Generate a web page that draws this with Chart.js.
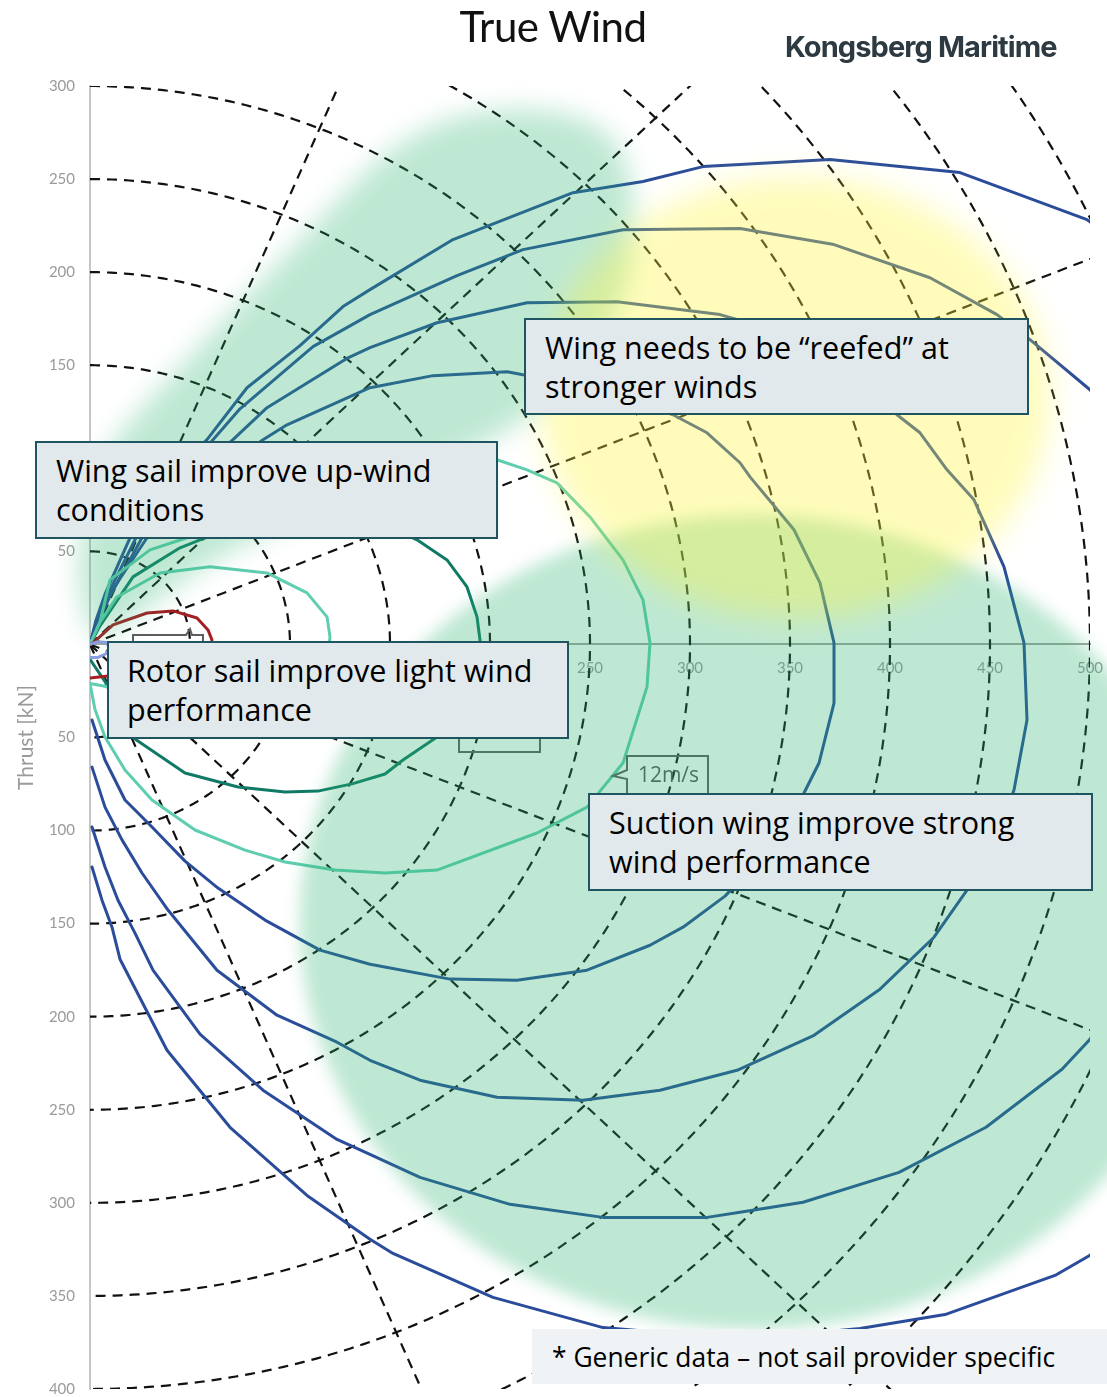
<!DOCTYPE html>
<html>
<head>
<meta charset="utf-8">
<title>True Wind – sail thrust polars</title>
<script src="https://cdn.jsdelivr.net/npm/chart.js@4.4.1/dist/chart.umd.min.js"></script>
<style>
  html, body { margin: 0; padding: 0; background: #fff; }
  #stage { position: relative; width: 1107px; height: 1397px; overflow: hidden; }
  #chart { position: absolute; left: 0; top: 0; }
  .heading { position: absolute; left: 353px; top: 5px; width: 400px; text-align: center;
             font: 42px/42px Lato, sans-serif; color: #111; letter-spacing: -0.5px; }
  .brand { position: absolute; left: 785px; top: 32px; font: 700 29px/29px Inter, sans-serif;
           color: #2d3a41; letter-spacing: -0.9px; white-space: nowrap; }
  .callout { position: absolute; box-sizing: border-box; border: 2px solid #1e5560; background: #e2e9ec;
             display: flex; align-items: center; padding-left: 19px; font: 30.5px/39px "Open Sans", sans-serif;
             color: #000; white-space: nowrap; }
  .footnote { position: absolute; box-sizing: border-box; background: #eff3f5; display: flex;
              align-items: center; padding-left: 20px; font: 26.4px/30px "Open Sans", sans-serif; color: #000;
              white-space: nowrap; }
</style>
</head>
<body>
<div id="stage">
  <canvas id="chart" width="1107" height="1397"></canvas>
  <div class="heading">True Wind</div>
  <div class="brand">Kongsberg Maritime</div>
  <div class="callout" style="left:524px;top:318px;width:505px;height:97px;">Wing needs to be “reefed” at<br>stronger winds</div>
  <div class="callout" style="left:35px;top:441px;width:463px;height:98px;">Wing sail improve up-wind<br>conditions</div>
  <div class="callout" style="left:107px;top:641px;width:462px;height:98px;padding-left:18px;">Rotor sail improve light wind<br>performance</div>
  <div class="callout" style="left:588px;top:793px;width:505px;height:98px;">Suction wing improve strong<br>wind performance</div>
  <div class="footnote" style="left:532px;top:1329px;width:575px;height:55px;">* Generic data – not sail provider specific</div>
</div>
<script>
// Thrust polars per true wind speed: [thrust x, thrust y] in kN,
// traced from head wind (origin) round to dead downwind (negative y axis).
const tw4 = [[0,0],[4,1.5],[8,1],[10,-2],[8,-5],[4,-7],[0,-7]];
const tw6 = [[0,0],[1.5,0.8],[11.5,10.5],[28.5,16.9],[41.5,18],[53.5,14.2],[59,7.8],[61,2.4],[60,-4],[55,-10],[40,-15.5],[22,-17.5],[9,-17],[0,-18]];
const tw8 = [[0,0],[5,12],[13.5,25.5],[35,38.4],[60,41.7],[88.5,38.4],[108.5,27.7],[118.5,14.8],[120,4],[119,-6],[110,-16],[90,-24],[60,-28],[30,-27],[10,-23],[0,-21]];
const tw10 = [[0,0],[5,10],[21.5,36.3],[45,51.9],[55,56.2],[80,66],[110,70],[140,68],[163.5,56.2],[178.5,45.4],[188.5,30.9],[193.5,14.8],[195,2.4],[194,-10],[186,-28],[177.5,-41.7],[173.5,-49.7],[156.5,-62.1],[147.5,-69.6],[131,-74.9],[114,-78.8],[97.5,-79.3],[74,-76.6],[47.5,-69.1],[21,-49.7],[7.5,-20],[0,-8]];
const tw12 = [[0,0],[5,12],[10,34.7],[30,50.8],[48.5,57.3],[80,77.7],[115,93.8],[155,101.9],[185,101.9],[203.5,99.2],[218.5,93.8],[233.5,86.8],[250,68.5],[266.5,45.4],[276.5,23.9],[280,0.8],[278.5,-22.8],[266.5,-63.7],[248.5,-87.4],[223.5,-101.3],[173.5,-121.2],[147.5,-122.8],[122.5,-121.2],[97.5,-116.9],[77.5,-110.5],[52.5,-99.7],[31,-83.6],[17.5,-67.5],[7.5,-49.7],[2.5,-35],[0,-21]];
const tw14 = [[0,0],[4,12],[10,27.2],[28.5,57.3],[55,85],[86.5,110],[98.5,118],[140,137.9],[171.5,144.4],[208.5,146.5],[216.5,144.9],[250,140],[291.5,123.4],[308.5,113.7],[325,97.6],[330,90],[352,61.6],[365,33.1],[372,0.8],[372,-31.5],[364.5,-63.7],[357,-79.8],[340,-110],[317.5,-135.2],[296.5,-151.9],[280,-161.6],[248.5,-175],[213.5,-180.4],[180,-179.8],[140,-171.8],[115,-164.2],[87.5,-148.1],[64,-130.9],[47.5,-116.4],[31,-98.1],[17.5,-83.6],[7.5,-62.1],[1,-40.6]];
const tw16 = [[0,0],[4,12],[10,26],[26,57.3],[45,85],[71.5,110],[88.5,127.2],[129,154],[140,159.4],[173.5,172.8],[218.5,183.6],[263.5,184.1],[315,177.2],[355,165],[385,145],[403.5,123.4],[415,113.7],[428.5,93.8],[442,77.7],[457,41.7],[467,0.8],[468.5,-40.6],[462,-78.2],[450,-115],[438.5,-132],[422,-157.3],[395,-185.2],[362,-210],[323.5,-228.8],[285,-239.5],[246.5,-244.9],[203.5,-243.3],[165,-234.1],[140,-223.4],[123.5,-213.7],[93.5,-199.2],[63.5,-175],[52.5,-160.5],[39,-142.7],[26,-122.8],[16,-105],[7.5,-87.4],[1,-65.9]];
const tw18 = [[0,0],[3.5,13],[9,27],[23,57.3],[40,85],[61.5,110],[75,126.6],[111.5,160],[140,177.2],[183.5,198.1],[216.5,212.1],[266.5,222.8],[325,223.4],[372,214.8],[420,197],[453.5,177.2],[470,163.7],[500,136.8],[530,95],[548,20],[548,-70],[532,-150],[500,-212.1],[486,-228.2],[448,-259.4],[404.5,-283.6],[356.5,-299.7],[325,-305.1],[308.5,-307.8],[256.5,-307.8],[210,-300.8],[165,-286.3],[140,-273.9],[123.5,-265.9],[86.5,-239.5],[55,-209.4],[31.5,-175],[22.5,-155.1],[14,-137.4],[7.5,-119.6],[1,-98.1]];
const tw20 = [[0,0],[3,13],[7.5,27],[20,57.3],[35,85],[58.5,110],[78.5,137.9],[105,160.5],[126.5,181.5],[140,190.6],[181.5,217.5],[241.5,242.7],[276.5,248.7],[306.5,256.7],[325,257.8],[370,260.5],[435,253.5],[498.5,228.2],[535,200],[565,120],[578,20],[575,-100],[560,-200],[530,-290],[500,-328.2],[482.5,-339],[427.5,-360],[385,-367.5],[340,-372],[300,-371],[256.5,-367],[201.5,-350.8],[151.5,-327.2],[140,-319.6],[108.5,-296],[70,-259.4],[38.5,-218],[15,-169.1],[11,-151.9],[6,-137.4],[1,-119.6]];

// Polar reference grid: thrust rings (kN) and wind-angle spokes (degrees from the x axis)
const gridRadii = [50, 100, 150, 200, 250, 300, 350, 400, 450, 500, 550];
const gridAngles = [67.5, 45, 22.5, -22.5, -45, -67.5];

// Axis ranges and tick spacing
const xRange = [0, 500];
const yRange = [-400, 300];
const tickStep = 50;

// Wind speed tags: text and the polar point each one points at
const speedTags = [
  { text: '6m/s', at: [50, 8.3], notch: 'top' },
  { text: '10m/s', at: [177.5, -47], notch: 'left' },
  { text: '12m/s', at: [261.5, -70.7], notch: 'left' }
];

// Highlighted regions (data coordinates)
const upwindZone = [[2.5,-0.3],[-5,23.9],[-6,50.8],[2.5,88.4],[11.5,110],[45,148.7],[80,189],[115,228.2],[140,256.7],[165,276.6],[195,287.4],[235,287.4],[262.5,274],[272.5,244.4],[270,190.6],[245,147.6],[215,118],[170,93.8],[120,75],[80,56.2],[50,37.4],[20,13.2]];
const strongWindZone = { cx: 331.5, cy: -149.2, rx: 226.5, ry: 218.8 };
const reefZone = { cx: 352.5, cy: 132.5, rx: 127.5, ry: 119 };

const pts = a => a.map(([x, y]) => ({ x, y }));
const polar = (data, color) => ({
  data: pts(data), showLine: true, borderColor: color, backgroundColor: color,
  borderWidth: 3, pointRadius: 0, fill: false, tension: 0,
  borderJoinStyle: 'round', borderCapStyle: 'round'
});

const BLUE = '#2a4c9a';
const datasets = [
  polar(tw4, '#8d9ce4'),
  polar(tw6, '#a31f22'),
  polar(tw8, '#5fcdb0'),
  polar(tw10, '#117a66'),
  polar(tw12, '#5fcdb0'),
  polar(tw14, BLUE),
  polar(tw16, BLUE),
  polar(tw18, BLUE),
  polar(tw20, BLUE)
];

const polarGrid = {
  id: 'polarGrid',
  beforeDatasetsDraw(chart) {
    const { ctx, chartArea: a, scales: { x, y } } = chart;
    ctx.save();
    ctx.beginPath();
    ctx.rect(a.left, a.top, a.right - a.left, a.bottom - a.top);
    ctx.clip();
    ctx.strokeStyle = '#111';
    ctx.lineWidth = 2.2;
    ctx.setLineDash([10, 7]);
    for (const r of gridRadii) {
      ctx.beginPath();
      for (let d = 90; d >= -90; d -= 0.5) {
        const t = d * Math.PI / 180;
        const px = x.getPixelForValue(r * Math.cos(t));
        const py = y.getPixelForValue(r * Math.sin(t));
        if (d === 90) ctx.moveTo(px, py); else ctx.lineTo(px, py);
      }
      ctx.stroke();
    }
    for (const deg of gridAngles) {
      const t = deg * Math.PI / 180;
      ctx.beginPath();
      ctx.moveTo(x.getPixelForValue(0), y.getPixelForValue(0));
      ctx.lineTo(x.getPixelForValue(1000 * Math.cos(t)), y.getPixelForValue(1000 * Math.sin(t)));
      ctx.stroke();
    }
    ctx.restore();
  }
};

function smoothClosed(ctx, p) {
  const n = p.length;
  const mid = (a, b) => [(a[0] + b[0]) / 2, (a[1] + b[1]) / 2];
  const m = mid(p[n - 1], p[0]);
  ctx.moveTo(m[0], m[1]);
  for (let i = 0; i < n; i++) {
    const nx = mid(p[i], p[(i + 1) % n]);
    ctx.quadraticCurveTo(p[i][0], p[i][1], nx[0], nx[1]);
  }
  ctx.closePath();
}

const highlights = {
  id: 'highlights',
  afterDatasetsDraw(chart) {
    const { ctx, scales: { x, y } } = chart;

    // wind speed tags
    ctx.save();
    ctx.strokeStyle = '#5d5d5d';
    ctx.lineWidth = 2;
    ctx.fillStyle = '#5a5a5a';
    ctx.font = '21px "Open Sans", sans-serif';
    ctx.textAlign = 'center';
    ctx.textBaseline = 'middle';
    for (const tag of speedTags) {
      const tx = x.getPixelForValue(tag.at[0]);
      const ty = y.getPixelForValue(tag.at[1]);
      ctx.beginPath();
      let bx, by, w = 81, h = 40;
      if (tag.notch === 'left') {
        bx = tx + 14; by = ty - 20;
        ctx.moveTo(bx, by); ctx.lineTo(bx + w, by); ctx.lineTo(bx + w, by + h);
        ctx.lineTo(bx, by + h); ctx.lineTo(bx, ty + 3); ctx.lineTo(tx, ty);
        ctx.lineTo(bx, ty - 6); ctx.closePath();
      } else {
        w = 70; bx = tx - 57; by = ty + 6;
        ctx.moveTo(bx, by); ctx.lineTo(tx - 4, by); ctx.lineTo(tx, ty); ctx.lineTo(tx + 2, by);
        ctx.lineTo(bx + w, by); ctx.lineTo(bx + w, by + h); ctx.lineTo(bx, by + h); ctx.closePath();
      }
      ctx.stroke();
      ctx.fillText(tag.text, bx + w / 2 + 1, by + h / 2);
    }
    ctx.restore();

    // translucent highlight zones
    const ellipse = (z) => {
      const cx = x.getPixelForValue(z.cx), cy = y.getPixelForValue(z.cy);
      const rx = Math.abs(x.getPixelForValue(z.cx + z.rx) - cx);
      const ry = Math.abs(y.getPixelForValue(z.cy + z.ry) - cy);
      ctx.beginPath();
      ctx.ellipse(cx, cy, rx, ry, 0, 0, Math.PI * 2);
    };
    ctx.save();
    ctx.filter = 'blur(13px)';
    ctx.fillStyle = 'rgba(40,180,110,0.3)';
    ctx.beginPath();
    smoothClosed(ctx, upwindZone.map(([a, b]) => [x.getPixelForValue(a), y.getPixelForValue(b)]));
    ctx.fill();
    ctx.restore();

    ctx.save();
    ctx.filter = 'blur(8px)';
    ctx.fillStyle = 'rgba(40,180,110,0.3)';
    ellipse(strongWindZone);
    ctx.fill();
    ctx.restore();

    ctx.save();
    ctx.filter = 'blur(15px)';
    ctx.fillStyle = 'rgba(255,245,60,0.35)';
    ellipse(reefZone);
    ctx.fill();
    ctx.restore();
  }
};

const tickFont = { family: 'Lato', size: 15, lineHeight: 1 };
new Chart(document.getElementById('chart'), {
  type: 'scatter',
  data: { datasets },
  options: {
    responsive: false,
    animation: false,
    devicePixelRatio: 1,
    layout: { padding: { top: 86, right: 17, bottom: 8, left: 0 } },
    plugins: { legend: { display: false }, tooltip: { enabled: false } },
    scales: {
      x: {
        type: 'linear', min: xRange[0], max: xRange[1], position: { y: 0 },
        afterFit(scale) { scale.paddingLeft = 0; scale.paddingRight = 0; },
        grid: { display: false, drawTicks: false },
        border: { display: true, color: '#a4a4a4', width: 2 },
        ticks: { stepSize: tickStep, autoSkip: false, maxRotation: 0, padding: 16,
                 color: '#9a9a9a', font: tickFont,
                 callback: v => (v === 0 ? '' : v) }
      },
      y: {
        type: 'linear', min: yRange[0], max: yRange[1], position: 'left',
        afterFit(scale) { scale.width = 90; scale.paddingTop = 0; scale.paddingBottom = 0; },
        grid: { display: false, drawTicks: false },
        border: { display: true, color: '#c6c6c6', width: 2 },
        ticks: { stepSize: tickStep, autoSkip: false, padding: 15, color: '#9a9a9a', font: tickFont,
                 callback: v => (v === 0 ? '' : Math.abs(v)) },
        title: { display: true, text: 'Thrust [kN]', color: '#9a9a9a',
                 font: { family: 'Lato', size: 21 }, padding: { top: 14, bottom: 0 } }
      }
    }
  },
  plugins: [polarGrid, highlights]
});
</script>
</body>
</html>
